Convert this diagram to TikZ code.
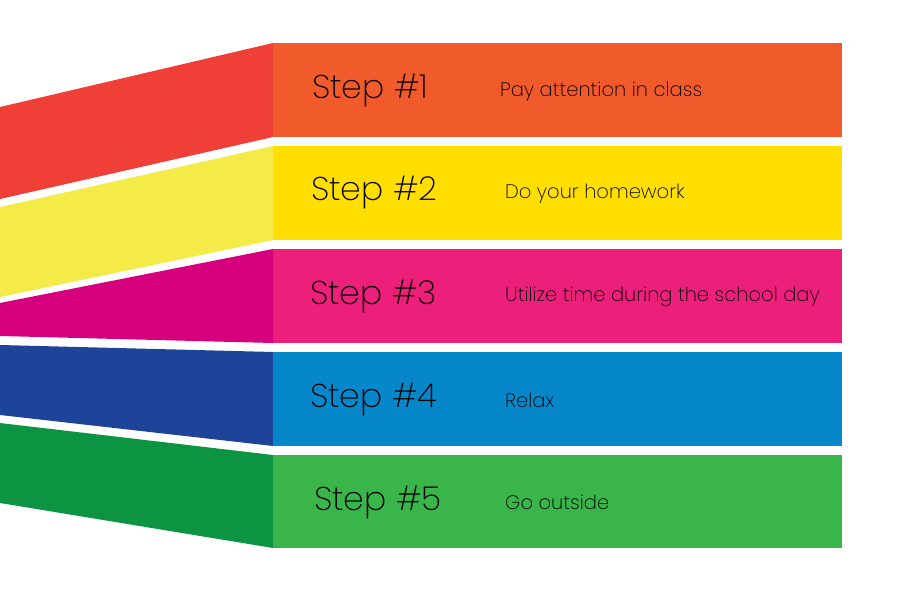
\documentclass[tikz,border=0pt]{standalone}
\usepackage{fontspec}
\setmainfont{Poppins}[UprightFont=* ExtraLight]
\definecolor{stepredleft}{RGB}{239,63,55}
\definecolor{steporange}{RGB}{241,90,43}
\definecolor{stepyellowleft}{RGB}{244,235,73}
\definecolor{stepyellow}{RGB}{255,222,0}
\definecolor{stepmagentaleft}{RGB}{214,0,127}
\definecolor{steppink}{RGB}{236,31,122}
\definecolor{stepnavyleft}{RGB}{29,68,153}
\definecolor{stepblue}{RGB}{5,135,201}
\definecolor{stepgreenleft}{RGB}{12,148,67}
\definecolor{stepgreen}{RGB}{57,181,74}

\begin{document}
\begin{tikzpicture}[x=1pt,y=-1pt,
  steplabel/.style={anchor=west,font=\fontsize{33}{38}\selectfont,inner sep=0pt},
  steptext/.style={anchor=west,font=\fontsize{19.5}{23}\selectfont,inner sep=0pt}]
\useasboundingbox (0,0) rectangle (900,600);
% slanted bands on the left
\fill [stepredleft] (0,107) -- (273,43) -- (273,137) -- (0,199) -- cycle;
\fill [stepyellowleft] (0,207) -- (273,146) -- (273,240) -- (0,297) -- cycle;
\fill [stepmagentaleft] (0,303) -- (273,249) -- (273,343) -- (0,336) -- cycle;
\fill [stepnavyleft] (0,345) -- (273,352) -- (273,446) -- (0,415) -- cycle;
\fill [stepgreenleft] (0,423) -- (273,455) -- (273,548) -- (0,503) -- cycle;
% boxes on the right
\fill [steporange] (273,43) rectangle (842,137);
\fill [stepyellow] (273,146) rectangle (842,240);
\fill [steppink] (273,249) rectangle (842,343);
\fill [stepblue] (273,352) rectangle (842,446);
\fill [stepgreen] (273,455) rectangle (842,548);
% labels
\node [steplabel] (step1) at (312,91) {Step \#1};
\node [steplabel] (step2) at (311,193) {Step \#2};
\node [steplabel] (step3) at (310,297) {Step \#3};
\node [steplabel] (step4) at (310,400) {Step \#4};
\node [steplabel] (step5) at (314,503) {Step \#5};
\node [steptext] (text1) at (500,92) {Pay attention in class};
\node [steptext] (text2) at (505,194) {Do your homework};
\node [steptext] (text3) at (505,297) {Utilize time during the school day};
\node [steptext] (text4) at (505,400) {Relax};
\node [steptext] (text5) at (505,502) {Go outside};
\end{tikzpicture}
\end{document}
